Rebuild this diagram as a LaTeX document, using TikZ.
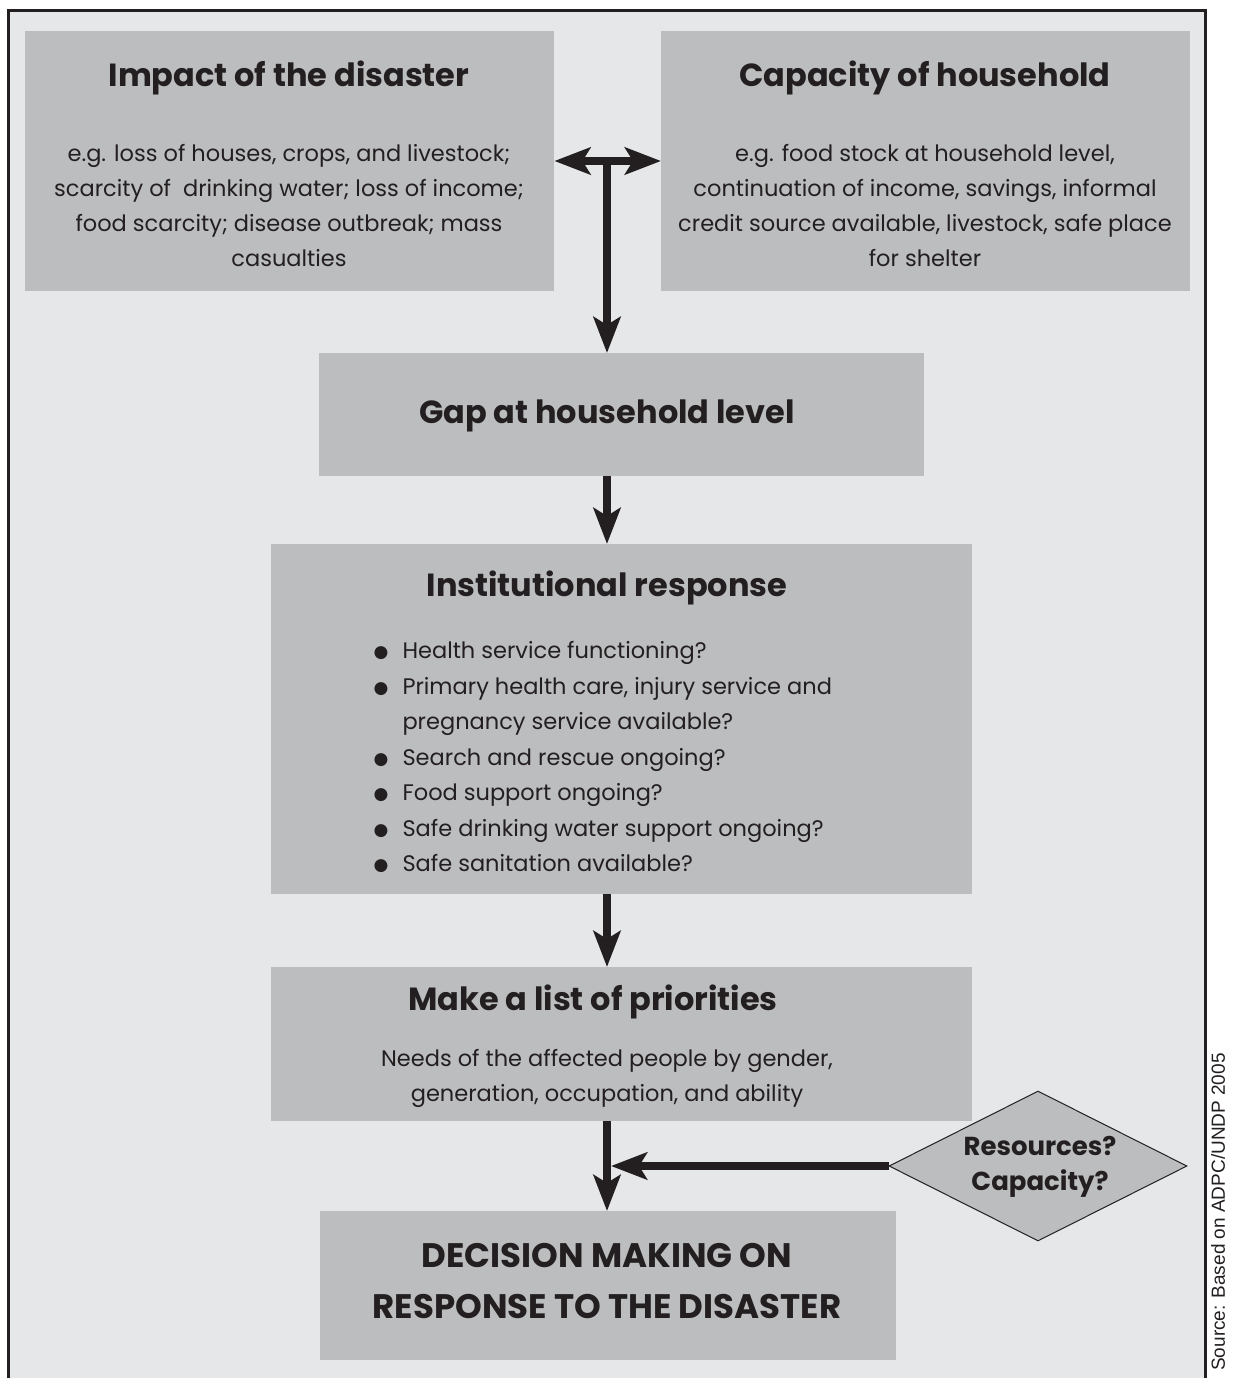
\documentclass[tikz,border=0pt]{standalone}
\usepackage{fontspec}
\setmainfont{Poppins}
\newfontfamily\srcfont{Liberation Sans}
\newfontfamily\symfont{DejaVu Sans}
\usetikzlibrary{arrows.meta,shapes.geometric}
\definecolor{bgray}{HTML}{E6E7E8}
\definecolor{boxgray}{HTML}{BCBDBF}
\definecolor{ink}{HTML}{231F20}
\tikzset{
  box/.style={fill=boxgray,inner sep=0pt,anchor=north west},
  head/.style={font=\bfseries\fontsize{32}{38}\selectfont,text=ink},
  body/.style={font=\fontsize{22.5}{35}\selectfont,text=ink,align=center},
  link/.style={->,line width=8pt,draw=ink},
}
\newcommand{\itm}[1]{\makebox[29pt][l]{\raisebox{1pt}{\symfont\fontsize{17}{17}\selectfont●}}#1}
\begin{document}
\begin{tikzpicture}[x=1pt,y=-1pt,>={Stealth[length=36pt,width=27pt,inset=8pt]}]
\useasboundingbox (0,0) rectangle (1232,1378);
\fill[white] (0,0) rectangle (1232,1378);
\draw[line width=3pt,draw=ink,fill=bgray] (8,11) rectangle (1205,1400);

% boxes
\node[box,minimum width=529pt,minimum height=260pt] (impact) at (25,31) {};
\node[box,minimum width=529pt,minimum height=260pt] (capacity) at (661,31) {};
\node[box,minimum width=605pt,minimum height=123pt] (gap) at (319,353) {};
\node[box,minimum width=701pt,minimum height=350pt] (inst) at (271,544) {};
\node[box,minimum width=701pt,minimum height=154pt] (prio) at (271,967) {};
\node[box,minimum width=576pt,minimum height=149pt] (dec) at (320,1211) {};
\node[diamond,fill=boxgray,draw=ink,line width=1pt,inner sep=0pt,
      minimum width=298pt,minimum height=150pt] (res) at (1038,1166) {};

% texts
\node[head] (impactT) at (289,78) {Impact of the disaster};
\node[body] (impactB) at (289,206) {e.g. loss of houses, crops, and livestock;\\
  scarcity of\ \ drinking water; loss of income;\\ food scarcity; disease outbreak; mass\\ casualties};
\node[head] (capT) at (925,78) {Capacity of household};
\node[body] (capB) at (925,206) {e.g. food stock at household level,\\
  continuation of income, savings, informal\\ credit source available, livestock, safe place\\ for shelter};
\node[head] (gapT) at (607,416) {Gap at household level};
\node[head] (instT) at (607,588) {Institutional response};
\node[body,align=left,anchor=west,font=\fontsize{22.5}{35.5}\selectfont] (instB) at (370,757) {%
  \itm{Health service functioning?}\\
  \itm{Primary health care, injury service and}\\
  \hspace*{29pt}pregnancy service available?\\
  \itm{Search and rescue ongoing?}\\
  \itm{Food support ongoing?}\\
  \itm{Safe drinking water support ongoing?}\\
  \itm{Safe sanitation available?}};
\node[head] (prioT) at (593,1002) {Make a list of priorities};
\node[body] (prioB) at (607,1078) {Needs of the affected people by gender,\\ generation, occupation, and ability};
\node[head,align=center,font=\bfseries\fontsize{34}{51}\selectfont] (decT) at (607,1281) {DECISION MAKING ON\\ RESPONSE TO THE DISASTER};
\node[head,align=center,font=\bfseries\fontsize{26}{35}\selectfont] (resT) at (1040,1167) {Resources?\\ Capacity?};
\node[rotate=90,font=\srcfont\fontsize{19}{22}\selectfont,text=ink] (src) at (1218,1212) {Source: Based on ADPC/UNDP 2005};

% arrows
\coordinate (tj) at (607,161);
\coordinate (bj) at (607,1166);
\draw[link,<->] (impact.east |- tj) -- (capacity.west |- tj);
\draw[link] (tj) -- (tj |- gap.north);
\draw[link] (gap.south -| tj) -- (tj |- inst.north);
\draw[link] (inst.south -| tj) -- (tj |- prio.north);
\draw[link] (prio.south -| tj) -- (tj |- dec.north);
\draw[link,shorten >=4pt] (res.west) -- (bj);
\end{tikzpicture}
\end{document}
